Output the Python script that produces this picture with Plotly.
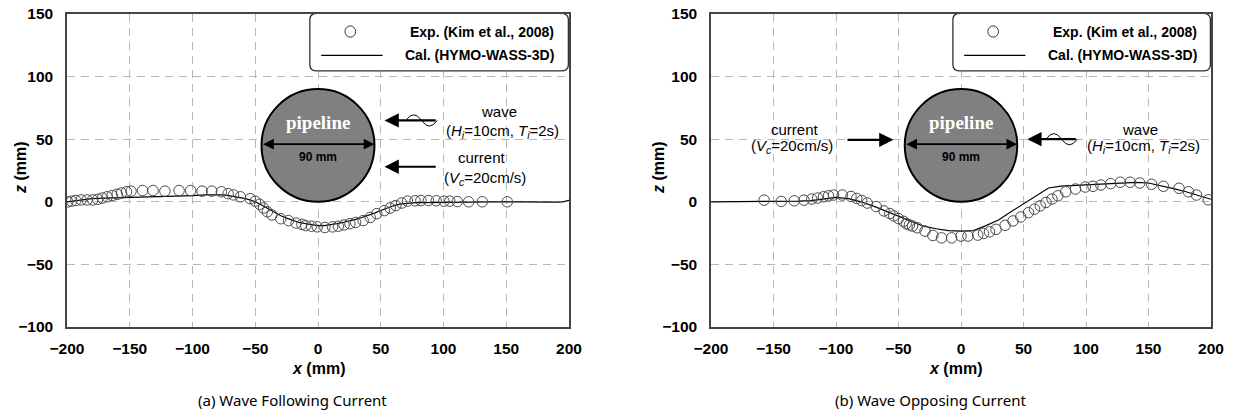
import plotly.graph_objects as go
import numpy as np

# ---------------- data ----------------
# (a) Wave following current
exp_a_x = [-199.4, -196.3, -193, -188.7, -184, -179.5, -175.5, -171.9, -168, -164, -160, -156.6,
           -152.6, -149, -139.8, -131.5, -122, -110.7, -101.5, -92.4, -84.7, -77, -71.6, -67.3,
           -61.8, -54, -50, -46.5, -43.4, -40.4, -36.7, -29.7, -23.5, -17.4, -12.8, -9.8, -5.2,
           -0.6, 5.5, 11.6, 16.2, 20.8, 25.4, 30, 36, 41.6, 46.8, 52.9, 57.5, 62, 66.7, 71.3,
           77.4, 82, 88, 94.2, 100.3, 105, 111, 120, 130.9, 150.8]
exp_a_z = [0, 0.5, 1, 1.5, 1.5, 1.5, 2, 3, 4, 5, 6, 7,
           8, 8.5, 9, 9, 8.5, 9, 9, 8.5, 8.5, 8, 6.5, 5.5,
           4, 2.5, 0.5, -2, -5, -8, -10.5, -13.5, -15, -17, -18, -19, -19.5,
           -20, -20.5, -20, -19.5, -18.5, -17.5, -16.5, -15, -12.5, -9.5, -7, -5, -3, -1, 0.5,
           0.8, 1, 1, 0.8, 0.5, 0.5, 0.2, 0, 0, 0]
cal_a_x = [-200, -190, -180, -170, -160, -150, -140, -120, -100, -90, -80, -75, -70, -65, -60,
           -55, -50, -45, -40, -35, -30, -25, -20, -15, -10, -5, 0, 5, 10, 15, 20, 25, 30, 35,
           40, 45, 50, 55, 60, 65, 70, 75, 80, 90, 100, 120, 140, 160, 180, 190, 195, 200]
cal_a_z = [0, 1.5, 2.5, 3, 3.2, 3.5, 3.8, 4.5, 5, 5.5, 5.8, 5.5, 4.8, 4, 3,
           1.8, 0, -2.5, -5.5, -8.5, -11, -13, -15, -16.5, -17.5, -18.5, -19, -19, -18.5, -17.5,
           -16.5, -15.5, -14, -12.5, -11, -9, -7, -5, -3.2, -1.8, -1, -0.8, -0.7, -0.5, -0.3,
           0, 0, 0, -0.5, -0.3, 0, 1.2]

# (b) Wave opposing current
exp_b_x = [-157.5, -143.8, -133.4, -125.6, -119.4, -114.7, -110, -106, -102, -95, -88, -83.4,
           -79.4, -75, -67.8, -61.6, -56.9, -53.8, -50, -46, -43.8, -41.3, -38.8, -35, -28.8,
           -22.5, -15.6, -7.5, 0, 5.6, 13.4, 18, 22.8, 28, 35.3, 41.6, 47.8, 54, 58.8, 63.4,
           68, 72.8, 77.5, 83.8, 91.6, 99.4, 105.6, 111.9, 119.7, 127.5, 135.3, 143, 152.5,
           161.9, 174.4, 182, 188.4, 197.8]
exp_b_z = [1.3, 0.3, 0.8, 1.3, 2.2, 3, 4, 4.8, 5.4, 5.4, 4.3, 2.7,
           1, -1, -3.8, -7.3, -9.4, -11.3, -13.4, -15.6, -17.5, -18.5, -19.4, -20.7, -23.4,
           -26.9, -28.8, -28.8, -27.4, -27.4, -26.6, -25.3, -24, -22, -18.8, -15.3, -12.1, -8.6,
           -5.9, -3.2, -0.5, 2.2, 4.8, 8, 10.2, 11.8, 12.4, 13.4, 14.5, 15.6, 15.6, 15, 14,
           12.4, 10.8, 8, 5.4, 1.6]
cal_b_x = [-200, -150, -130, -120, -110, -100, -90, -80, -70, -60, -50, -40, -30, -20, -10, 0,
           10, 20, 30, 40, 50, 60, 70, 80, 90, 100, 110, 120, 130, 140, 150, 160, 170, 180, 190, 200]
cal_b_z = [0, 0, 0.5, 1, 2, 3.5, 2.5, 0, -3.5, -7.5, -11.5, -16, -19.5, -21.5, -23, -23.5,
           -23, -19, -14.5, -8, -1.5, 4.5, 11, 12.5, 13, 14, 14.5, 15, 15.5, 15.5, 15, 13,
           10.5, 8, 5, 2]

x_ticks = [-200, -150, -100, -50, 0, 50, 100, 150, 200]
z_ticks = [-100, -50, 0, 50, 100, 150]
legend_exp = "Exp. (Kim et al., 2008)"
legend_cal = "Cal. (HYMO-WASS-3D)"
subtitles = ["(a) Wave Following Current", "(b) Wave Opposing Current"]
PIPE_D = 90

# ---------------- figure ----------------
W, H = 1233, 416
fig = go.Figure()
FONT = "Arial"

def px2x(p):
    return p / W

def px2y(p):
    return 1 - p / H

doms = [[px2x(67), px2x(569)], [px2x(711), px2x(1211)]]
ydom = [px2y(327), px2y(14)]

marker_style = dict(symbol="circle-open", size=10.5, color="#4a4a4a", line=dict(width=1))
for i, (ex, ez, cx, cz) in enumerate([(exp_a_x, exp_a_z, cal_a_x, cal_a_z),
                                      (exp_b_x, exp_b_z, cal_b_x, cal_b_z)]):
    xa = "x" if i == 0 else "x2"
    ya = "y" if i == 0 else "y2"
    fig.add_trace(go.Scatter(x=cx, y=cz, mode="lines", line=dict(color="black", width=1.2),
                             xaxis=xa, yaxis=ya, showlegend=False, name=legend_cal))
    fig.add_trace(go.Scatter(x=ex, y=ez, mode="markers", marker=marker_style,
                             xaxis=xa, yaxis=ya, showlegend=False, name=legend_exp))

axis_common = dict(showline=True, linecolor="#444444", linewidth=1.5, mirror=True,
                   showgrid=True, gridcolor="#b8b8b8", griddash="8px,6px", gridwidth=1,
                   zeroline=False, ticks="outside", tickcolor="rgba(0,0,0,0)", automargin=False,
                   ticklabeloverflow="allow",
                   tickfont=dict(family=FONT, size=15.5, color="black", weight="bold"))

layout_axes = {}
for i in range(2):
    sfx = "" if i == 0 else "2"
    layout_axes["xaxis" + sfx] = dict(axis_common, domain=doms[i], range=[-200, 200],
                                      tickvals=x_ticks, ticklen=7,
                                      anchor="y" + sfx)
    layout_axes["yaxis" + sfx] = dict(axis_common, domain=ydom, range=[-100, 150],
                                      tickvals=z_ticks, ticklen=9,
                                      anchor="x" + sfx)

fig.update_layout(width=W, height=H, margin=dict(l=0, r=0, t=0, b=0),
                  paper_bgcolor="white", plot_bgcolor="white", **layout_axes)

shapes = []
annotations = []

def rounded_box(x0, x1, y0, y1, rx, ry, xr, yr):
    path = (f"M {x0+rx},{y0} L {x1-rx},{y0} Q {x1},{y0} {x1},{y0+ry} "
            f"L {x1},{y1-ry} Q {x1},{y1} {x1-rx},{y1} L {x0+rx},{y1} "
            f"Q {x0},{y1} {x0},{y1-ry} L {x0},{y0+ry} Q {x0},{y0} {x0+rx},{y0} Z")
    return dict(type="path", path=path, xref=xr, yref=yr,
                line=dict(color="#333333", width=1.3), fillcolor="white", layer="above")

def sine_path(xs, xe, yc, amp):
    xm = (xs + xe) / 2
    q1 = (xs + xm) / 2
    q2 = (xm + xe) / 2
    return (f"M {xs},{yc} Q {q1},{yc + 2*amp} {xm},{yc} Q {q2},{yc - 2*amp} {xe},{yc}")

def arrow(xr, yr, x_head, x_tail, yv):
    return dict(x=x_head, y=yv, ax=x_tail, ay=yv, xref=xr, yref=yr, axref=xr, ayref=yr,
                showarrow=True, arrowhead=2, arrowsize=1.3, arrowwidth=2.2,
                arrowcolor="black", text="")

def txt(xr, yr, x, y, text, size=16, bold=False, color="black", family=FONT, **kw):
    return dict(x=x, y=y, xref=xr, yref=yr, text=text, showarrow=False,
                xanchor=kw.pop("xanchor", "center"), yanchor=kw.pop("yanchor", "middle"),
                font=dict(family=family, size=size, color=color,
                          weight="bold" if bold else "normal"), **kw)

for i in range(2):
    xr = "x" if i == 0 else "x2"
    yr = "y" if i == 0 else "y2"
    # legend box
    shapes.append(rounded_box(-6.5, 199.5, 104.5, 150.5, 6, 5, xr, yr))
    shapes.append(dict(type="circle", xref=xr, yref=yr, x0=21.5, x1=30, y0=131.5, y1=140.5,
                       line=dict(color="#333333", width=1), fillcolor="rgba(0,0,0,0)"))
    shapes.append(dict(type="line", xref=xr, yref=yr, x0=2.5, x1=51.5, y0=117, y1=117,
                       line=dict(color="black", width=1.3)))
    annotations.append(txt(xr, yr, 190, 136, legend_exp, size=14, bold=True, xanchor="right"))
    annotations.append(txt(xr, yr, 190, 117, legend_cal, size=14, bold=True, xanchor="right"))
    # pipeline
    shapes.append(dict(type="circle", xref=xr, yref=yr, x0=-PIPE_D/2, x1=PIPE_D/2, y0=0, y1=PIPE_D,
                       fillcolor="#808080", line=dict(color="black", width=2), layer="above"))
    annotations.append(txt(xr, yr, 0, 63, "pipeline", size=19, bold=True, color="white",
                           family="Liberation Serif"))
    annotations.append(dict(x=PIPE_D/2, y=46, ax=-PIPE_D/2, ay=46, xref=xr, yref=yr, axref=xr, ayref=yr,
                            showarrow=True, arrowhead=2, startarrowhead=2, arrowside="end+start",
                            arrowsize=1.2, startarrowsize=1.2, arrowwidth=1.8, arrowcolor="black", text=""))
    annotations.append(txt(xr, yr, 0, 36, "90 mm", size=12, bold=True))

# panel (a) annotations
annotations.append(arrow("x", "y", 53, 95, 65))
shapes.append(dict(type="path", xref="x", yref="y", path=sine_path(70, 95, 65, 4.5),
                   line=dict(color="black", width=1)))
annotations.append(txt("x", "y", 144, 72.5, "wave", size=15))
annotations.append(txt("x", "y", 147, 56.5, "(<i>H<sub>i</sub></i>=10cm, <i>T<sub>i</sub></i>=2s)", size=15))
annotations.append(arrow("x", "y", 53, 95, 28))
annotations.append(txt("x", "y", 131, 35, "current", size=15))
annotations.append(txt("x", "y", 133, 19, "(<i>V<sub>c</sub></i>=20cm/s)", size=15))

# panel (b) annotations
annotations.append(arrow("x2", "y2", -54, -92, 49.5))
annotations.append(txt("x2", "y2", -133, 58, "current", size=15))
annotations.append(txt("x2", "y2", -135, 44.5, "(<i>V<sub>c</sub></i>=20cm/s)", size=15))
annotations.append(arrow("x2", "y2", 53, 93, 50))
shapes.append(dict(type="path", xref="x2", yref="y2", path=sine_path(68, 93, 50, 4.5),
                   line=dict(color="black", width=1)))
annotations.append(txt("x2", "y2", 143, 58, "wave", size=15))
annotations.append(txt("x2", "y2", 146, 44.5, "(<i>H<sub>i</sub></i>=10cm, <i>T<sub>i</sub></i>=2s)", size=15))

# axis titles and subtitles (paper coords)
for cx, ylx, sub_cx, sub in [(318, 20, 292, subtitles[0]), (955, 658, 930, subtitles[1])]:
    annotations.append(txt("paper", "paper", px2x(cx), px2y(368), "<i>x</i> (mm)", size=16, bold=True))
    annotations.append(txt("paper", "paper", px2x(ylx), px2y(168), "<i>z</i> (mm)", size=16, bold=True,
                           textangle=-90))
    annotations.append(txt("paper", "paper", px2x(sub_cx), px2y(400), sub, size=15,
                           family="Noto Sans"))

fig.update_layout(shapes=shapes, annotations=annotations)
fig.write_html("out.html", post_script="document.body.style.margin='0';",
               config={"displayModeBar": False})
